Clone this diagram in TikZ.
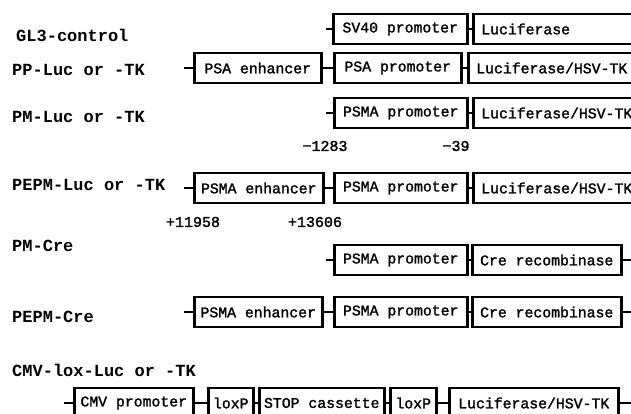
\documentclass[tikz,border=0pt]{standalone}
\usepackage{fontspec}
\setmonofont{Liberation Mono}
\newfontface\bxface{Liberation Mono}[FakeBold=1.6]
\newcommand{\lblfont}{\fontsize{17}{19}\selectfont\ttfamily\bfseries}
\newcommand{\bxfont}{\fontsize{14.8}{17}\selectfont\bxface}
\newcommand{\numfont}{\fontsize{15}{17}\selectfont\bxface}
\tikzset{
  bx/.style={draw, line width=2.5pt, minimum height=30pt, inner sep=0pt, font=\bxfont, anchor=west},
  lucbox/.style={bx, text width=160pt, align=left, inner xsep=8pt},
  lbl/.style={font=\lblfont, anchor=west, inner sep=0pt},
  num/.style={font=\numfont, inner sep=0pt},
  stub/.style={line width=2.5pt},
}
\begin{document}
\begin{tikzpicture}[x=1pt,y=1pt]
\useasboundingbox (0,0) rectangle (631,-413);
\clip (0,0) rectangle (631,-413);
% labels
\node[lbl] (l1) at (16,-35) {GL3-control};
\node[lbl] (l2) at (12,-70) {PP-Luc or -TK};
\node[lbl] (l3) at (12,-117) {PM-Luc or -TK};
\node[lbl] (l4) at (12,-185) {PEPM-Luc or -TK};
\node[lbl] (l5) at (12,-246) {PM-Cre};
\node[lbl] (l6) at (12,-317) {PEPM-Cre};
\node[lbl] (l7) at (12,-370) {CMV-lox-Luc or -TK};
% row 1
\coordinate (s1) at (326,-29);
\node[bx, minimum width=134pt] (sv40) at (332,-29) {SV40 promoter};
\node[lucbox] (luc1) at (472,-29) {Luciferase};
\draw[stub] (s1) -- (sv40.west);
\draw[stub] (sv40.east) -- (luc1.west);
% row 2
\coordinate (s2) at (184,-68);
\node[bx, minimum width=127pt] (psaenh) at (193,-68) {PSA enhancer};
\node[bx, minimum width=127pt] (psaprom) at (333,-68) {PSA promoter};
\node[lucbox] (luc2) at (467,-68) {Luciferase/HSV-TK};
\draw[stub] (s2) -- (psaenh.west);
\draw[stub] (psaenh.east) -- (psaprom.west);
\draw[stub] (psaprom.east) -- (luc2.west);
% row 3
\coordinate (s3) at (326,-113);
\node[bx, minimum width=133pt] (pm3) at (333,-113) {PSMA promoter};
\node[lucbox] (luc3) at (472,-113) {Luciferase/HSV-TK};
\draw[stub] (s3) -- (pm3.west);
\draw[stub] (pm3.east) -- (luc3.west);
\node[num] (n1) at (325,-146) {−1283};
\node[num] (n2) at (456,-146) {−39};
% row 4
\coordinate (s4) at (184,-188);
\node[bx, minimum width=129pt] (pe4) at (193,-188) {PSMA enhancer};
\node[bx, minimum width=133pt] (pm4) at (333,-188) {PSMA promoter};
\node[lucbox] (luc4) at (472,-188) {Luciferase/HSV-TK};
\draw[stub] (s4) -- (pe4.west);
\draw[stub] (pe4.east) -- (pm4.west);
\draw[stub] (pm4.east) -- (luc4.west);
\node[num] (n3) at (193,-222) {+11958};
\node[num] (n4) at (315,-222) {+13606};
% row 5
\coordinate (s5) at (326,-260);
\node[bx, minimum width=133pt] (pm5) at (333,-260) {PSMA promoter};
\node[bx, minimum width=149pt] (cre5) at (471,-260) {Cre recombinase};
\coordinate (e5) at (631,-260);
\draw[stub] (s5) -- (pm5.west);
\draw[stub] (pm5.east) -- (cre5.west);
\draw[stub] (cre5.east) -- (e5);
% row 6
\coordinate (s6) at (184,-312);
\node[bx, minimum width=128pt] (pe6) at (193,-312) {PSMA enhancer};
\node[bx, minimum width=133pt] (pm6) at (333,-312) {PSMA promoter};
\node[bx, minimum width=149pt] (cre6) at (471,-312) {Cre recombinase};
\coordinate (e6) at (631,-312);
\draw[stub] (s6) -- (pe6.west);
\draw[stub] (pe6.east) -- (pm6.west);
\draw[stub] (pm6.east) -- (cre6.west);
\draw[stub] (cre6.east) -- (e6);
% row 7
\coordinate (s7) at (64,-403);
\node[bx, minimum width=119pt] (cmv) at (73,-403) {CMV promoter};
\node[bx, minimum width=45pt] (lox1) at (207,-403) {loxP};
\node[bx, minimum width=125pt] (stop) at (258,-403) {STOP cassette};
\node[bx, minimum width=46pt] (lox2) at (389,-403) {loxP};
\node[bx, minimum width=169pt] (luc7) at (448,-403) {Luciferase/HSV-TK};
\coordinate (e7) at (631,-403);
\draw[stub] (s7) -- (cmv.west);
\draw[stub] (cmv.east) -- (lox1.west);
\draw[stub] (lox1.east) -- (stop.west);
\draw[stub] (stop.east) -- (lox2.west);
\draw[stub] (lox2.east) -- (luc7.west);
\draw[stub] (luc7.east) -- (e7);
\end{tikzpicture}
\end{document}
